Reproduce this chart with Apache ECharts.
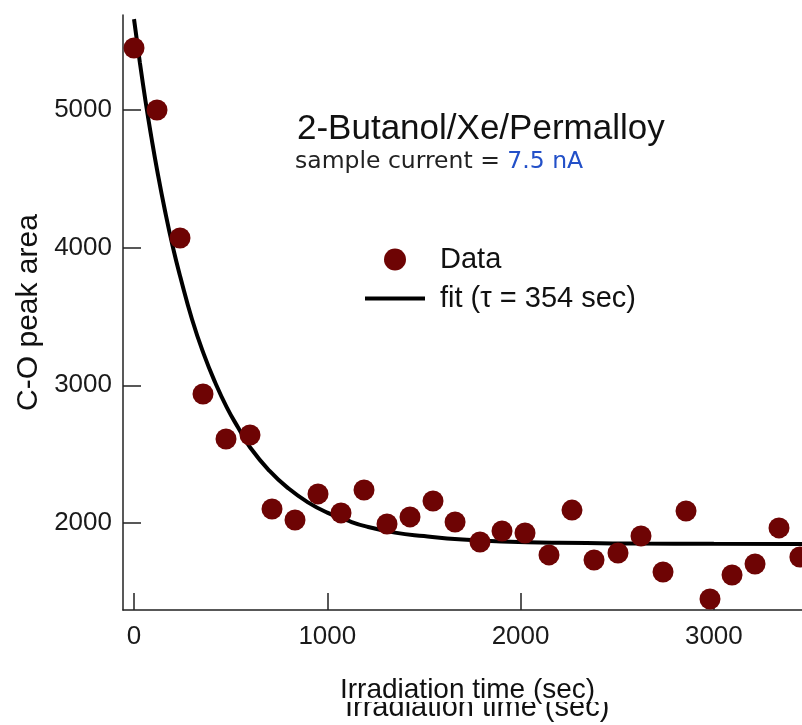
<!DOCTYPE html>
<html>
<head>
<meta charset="utf-8">
<script src="https://cdn.jsdelivr.net/npm/echarts@6.0.0/dist/echarts.min.js"></script>
<style>
  html, body { margin: 0; padding: 0; background: #fff; }
  #chart { width: 802px; height: 725px; }
</style>
</head>
<body>
<div id="chart"></div>
<script>
// measured points: irradiation time (sec) and C-O peak area
var dataTime = [0, 119, 238, 357, 476, 600, 714, 833, 952, 1071, 1190, 1309, 1428, 1547, 1661,
  1790, 1904, 2023, 2147, 2266, 2380, 2504, 2623, 2737, 2856, 2980, 3094, 3213, 3337, 3445];
var dataArea = [5450, 5000, 4070, 2937, 2610, 2639, 2102, 2022, 2211, 2073, 2240, 1993, 2044, 2160, 2007,
  1862, 1942, 1927, 1768, 2094, 1731, 1782, 1906, 1644, 2087, 1448, 1622, 1702, 1964, 1753];

// fit curve
var fitTime = [0, 30, 60, 90, 120, 160, 200, 240, 300, 360, 420, 480, 540, 600, 700, 800, 900, 1000,
  1100, 1200, 1350, 1500, 1700, 1900, 2200, 2600, 3000, 3456];
var fitArea = [5660, 5347, 5060, 4800, 4560, 4270, 4010, 3785, 3480, 3230, 3020, 2840, 2690, 2550, 2380, 2250, 2150, 2075,
  2020, 1975, 1930, 1905, 1880, 1866, 1856, 1851, 1849, 1848];

var xTicks = [0, 1000, 2000, 3000];
var yTicks = [2000, 3000, 4000, 5000];

var chart = echarts.init(document.getElementById('chart'));

var font = '"Liberation Sans", Arial, Helvetica, sans-serif';
var axisColor = '#222';

var scatterData = dataTime.map(function (t, i) { return [t, dataArea[i]]; });
var fitData = fitTime.map(function (t, i) { return [t, fitArea[i]]; });

var option = {
  backgroundColor: '#fff',
  animation: false,
  textStyle: { fontFamily: font },
  title: [
    {
      text: '2-Butanol/Xe/Permalloy',
      left: 297,
      top: 112,
      padding: 0,
      textStyle: { fontSize: 35, fontWeight: 'normal', color: '#111', fontFamily: font }
    },
    {
      text: '{a|sample current = }{b|7.5 nA}',
      left: 295,
      top: 150,
      padding: 0,
      textStyle: {
        fontWeight: 'normal',
        rich: {
          a: { fontSize: 23.5, fontWeight: 'normal', color: '#222', fontFamily: '"DejaVu Sans", sans-serif' },
          b: { fontSize: 23.5, fontWeight: 'normal', color: '#2350c8', fontFamily: '"DejaVu Sans", sans-serif' }
        }
      }
    }
  ],
  legend: {
    orient: 'vertical',
    left: 363,
    top: 245,
    padding: 0,
    itemWidth: 60,
    itemHeight: 22,
    itemGap: 10,
    selectedMode: false,
    textStyle: { fontSize: 29, color: '#111', fontFamily: font, padding: [0, 0, 0, 10] },
    data: [
      { name: 'Data' },
      {
        name: 'fit (τ = 354 sec)',
        itemStyle: { color: 'rgba(0,0,0,0)', opacity: 0, borderWidth: 0 },
        lineStyle: { width: 4, color: '#000' }
      }
    ]
  },
  grid: { left: 123, right: 0, top: 15, bottom: 115 },
  xAxis: {
    type: 'value',
    min: -57,
    max: 3456,
    axisLine: { show: true, onZero: false, lineStyle: { color: axisColor, width: 1.5 } },
    axisTick: { show: true, inside: true, length: 17, customValues: xTicks, lineStyle: { color: axisColor, width: 1.5 } },
    axisLabel: {
      customValues: xTicks, fontSize: 26, color: '#1a1a1a', margin: 14, fontFamily: font,
      formatter: function (v) { return String(v); }
    },
    splitLine: { show: false }
  },
  yAxis: {
    type: 'value',
    min: 1368,
    max: 5690,
    name: 'C-O peak area',
    nameLocation: 'middle',
    nameGap: 72,
    nameTextStyle: { fontSize: 30, color: '#111', fontFamily: font },
    axisLine: { show: true, onZero: false, lineStyle: { color: axisColor, width: 1.5 } },
    axisTick: { show: true, inside: true, length: 18, customValues: yTicks, lineStyle: { color: axisColor, width: 1.5 } },
    axisLabel: {
      customValues: yTicks, fontSize: 26, color: '#1a1a1a', margin: 11, fontFamily: font,
      formatter: function (v) { return String(v); }
    },
    splitLine: { show: false }
  },
  graphic: [
    {
      type: 'text',
      z: 1,
      style: {
        x: 345, y: 708,
        text: 'Irradiation time (sec)',
        font: '29px ' + font,
        fill: '#111',
        textVerticalAlign: 'middle'
      }
    },
    {
      type: 'rect',
      z: 2,
      shape: { x: 330, y: 660, width: 300, height: 42 },
      style: { fill: '#fff' }
    },
    {
      type: 'text',
      z: 3,
      style: {
        x: 340, y: 690,
        text: 'Irradiation time (sec)',
        font: '28px ' + font,
        fill: '#111',
        textVerticalAlign: 'middle'
      }
    }
  ],
  series: [
    {
      name: 'fit (τ = 354 sec)',
      type: 'line',
      data: fitData,
      smooth: true,
      symbol: 'none',
      z: 2,
      lineStyle: { color: '#000', width: 4 },
      itemStyle: { color: '#000' }
    },
    {
      name: 'Data',
      type: 'scatter',
      data: scatterData,
      symbol: 'circle',
      symbolSize: 21,
      z: 3,
      itemStyle: { color: '#6e0404', opacity: 1 }
    }
  ]
};

chart.setOption(option);
</script>
</body>
</html>
